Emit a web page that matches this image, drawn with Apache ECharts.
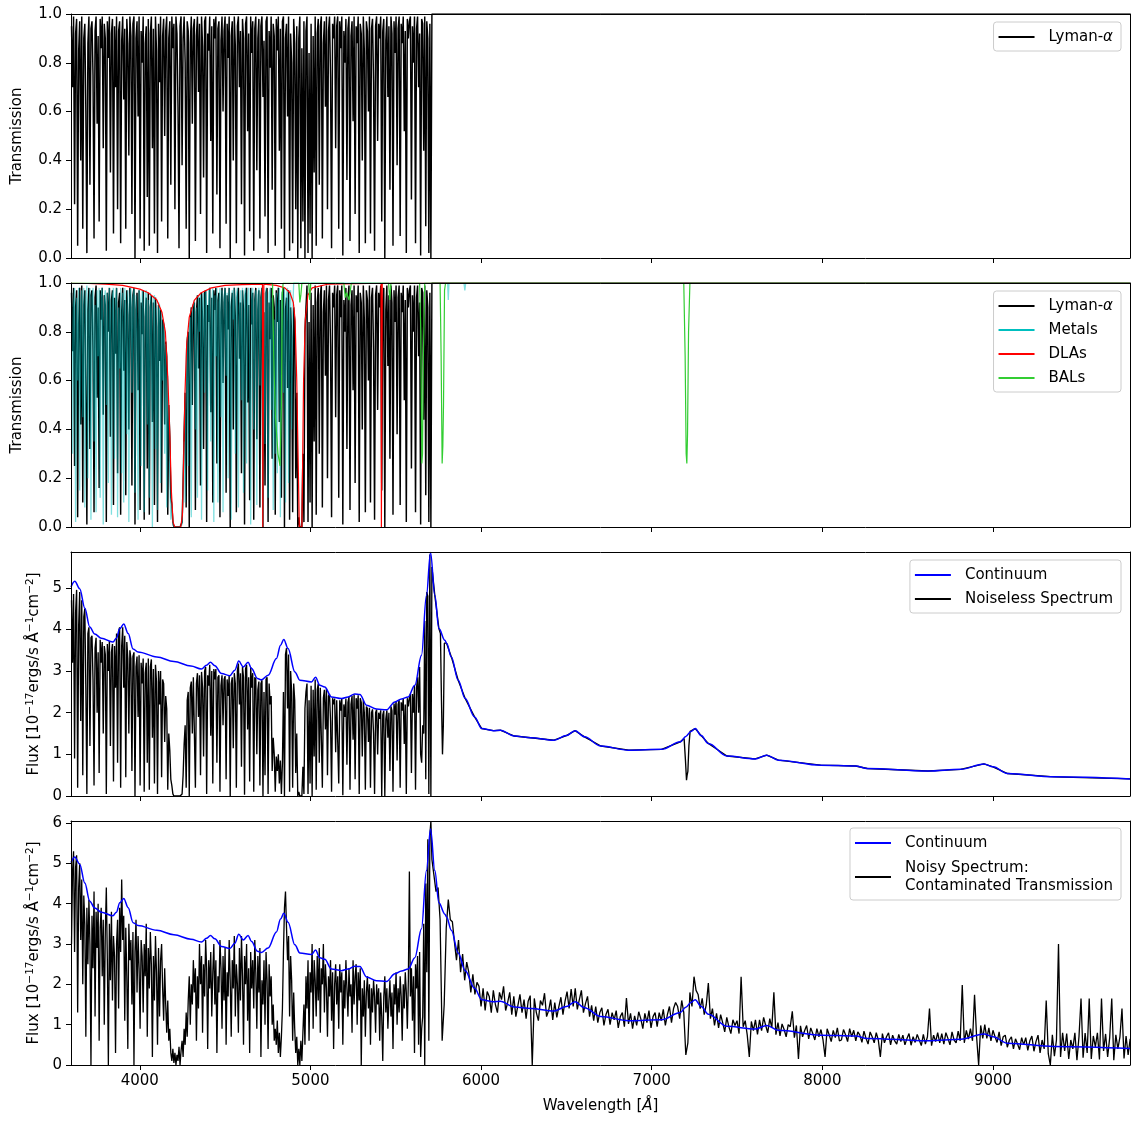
<!DOCTYPE html>
<html><head><meta charset="utf-8">
<script src="https://cdn.jsdelivr.net/npm/echarts@6/dist/echarts.min.js"></script>
<style>html,body{margin:0;padding:0;background:#fff}#c{width:1132px;height:1123px}</style>
</head><body><div id="c"></div>
<script>
// ---------------- DATA ----------------
// Forest sampling grid (Angstrom): 3600, 3606, ... 5706
const FOREST_START = 3600, FOREST_STEP = 6;
// Red-side sampling grid for the noisy spectrum: 5712, 5724, ... 9804
const RED_START = 5712, RED_STEP = 12;

const xTicks = [4000, 5000, 6000, 7000, 8000, 9000];
const transTicks = [0, 0.2, 0.4, 0.6, 0.8, 1.0];
const flux3Ticks = [0, 1, 2, 3, 4, 5];
const flux4Ticks = [0, 1, 2, 3, 4, 5, 6];

// Lyman-alpha transmission (panel 1, and panel 2 redward of 4974 A)
const lyaT = [
0.95,0.70,0.99,0.22,0.92,0.98,0.05,0.85,0.97,0.40,
0.99,0.12,0.90,0.96,0.60,0.02,0.88,0.99,0.30,0.94,
0.97,0.75,0.08,0.93,0.99,0.55,0.91,0.15,0.98,0.86,
0.99,0.45,0.96,0.90,0.03,0.97,0.82,0.99,0.35,0.92,
0.98,0.10,0.95,0.70,0.99,0.20,0.93,0.97,0.06,0.89,
0.99,0.65,0.94,0.12,0.98,0.88,0.42,0.99,0.91,0.18,
0.96,0.99,0.00,0.90,0.97,0.58,0.99,0.08,0.93,0.80,
0.99,0.03,0.88,0.95,0.25,0.98,0.05,0.92,0.99,0.45,
0.94,0.10,0.99,0.85,0.02,0.96,0.72,0.99,0.15,0.91,
0.98,0.50,0.93,0.99,0.08,0.90,0.97,0.30,0.99,0.86,
0.96,0.20,0.99,0.92,0.62,0.04,0.95,0.99,0.38,0.90,
0.99,0.80,0.12,0.97,0.93,0.00,0.88,0.99,0.55,0.94,
0.98,0.07,0.91,0.99,0.68,0.96,0.18,0.99,0.87,0.33,
0.97,0.99,0.02,0.92,0.85,0.99,0.48,0.95,0.10,0.98,
0.90,0.99,0.26,0.94,0.97,0.04,0.89,0.99,0.60,0.93,
0.99,0.14,0.96,0.82,0.99,0.00,0.91,0.97,0.40,0.99,
0.87,0.06,0.95,0.99,0.70,0.93,0.22,0.98,0.90,0.01,
0.96,0.99,0.52,0.92,0.11,0.99,0.84,0.97,0.03,0.94,
0.99,0.36,0.90,0.98,0.08,0.95,0.99,0.66,0.89,0.17,
0.97,0.99,0.02,0.93,0.78,0.99,0.28,0.96,0.91,0.05,
0.98,0.85,0.99,0.44,0.94,0.12,0.97,0.99,0.00,0.90,
0.96,0.58,0.99,0.03,0.92,0.80,0.06,0.98,0.88,0.20,
0.95,0.00,0.90,0.99,0.04,0.86,0.15,0.97,0.00,0.93,
0.99,0.02,0.84,0.10,0.96,0.00,0.91,0.35,0.99,0.05,
0.92,0.98,0.30,0.95,0.99,0.08,0.88,0.97,0.62,0.99,
0.20,0.93,0.99,0.74,0.04,0.96,0.90,0.99,0.45,0.95,
0.99,0.12,0.97,0.86,0.99,0.01,0.93,0.80,0.98,0.32,
0.94,0.99,0.07,0.91,0.97,0.56,0.99,0.18,0.95,0.88,
0.99,0.02,0.96,0.92,0.40,0.99,0.85,0.06,0.97,0.93,
0.60,0.99,0.10,0.94,0.98,0.72,0.03,0.95,0.99,0.48,
0.96,0.90,0.99,0.15,0.93,0.98,0.00,0.89,0.99,0.66,
0.95,0.28,0.99,0.92,0.05,0.97,0.84,0.99,0.38,0.94,
0.99,0.09,0.96,0.88,0.99,0.52,0.93,0.02,0.98,0.90,
0.97,0.99,0.24,0.95,0.80,0.99,0.06,0.94,0.99,0.70,
0.92,0.01,0.98,0.96,0.44,0.99,0.13,0.97,0.90,0.02,
0.96,0.00
];
const lyaTailWl = [5712, 9803];
const lyaTailT = [1.0, 1.0];

// Lyman-alpha as drawn in panel 2 blueward of 4980 A (cut by the DLAs)
const lyaDlaT = [
0.96,0.72,0.98,0.25,0.90,0.97,0.04,0.83,0.98,0.42,
0.99,0.10,0.91,0.97,0.58,0.01,0.89,0.98,0.32,0.95,
0.97,0.73,0.06,0.94,0.99,0.53,0.90,0.16,0.97,0.85,
0.98,0.46,0.95,0.91,0.02,0.96,0.80,0.98,0.37,0.93,
0.97,0.09,0.94,0.71,0.98,0.22,0.92,0.96,0.05,0.88,
0.98,0.64,0.93,0.13,0.97,0.87,0.40,0.98,0.90,0.17,
0.95,0.98,0.01,0.89,0.96,0.56,0.97,0.07,0.92,0.79,
0.97,0.03,0.86,0.94,0.24,0.96,0.05,0.90,0.95,0.43,
0.92,0.09,0.94,0.82,0.02,0.91,0.68,0.89,0.14,0.85,
0.83,0.42,0.76,0.70,0.05,0.50,0.37,0.12,0.09,0.02,
0.00,0.00,0.00,0.00,0.00,0.00,0.00,0.00,0.02,0.18,
0.39,0.55,0.08,0.76,0.80,0.00,0.83,0.90,0.50,0.91,
0.92,0.07,0.88,0.95,0.65,0.94,0.17,0.96,0.85,0.32,
0.96,0.97,0.02,0.91,0.84,0.98,0.47,0.94,0.10,0.97,
0.89,0.98,0.26,0.93,0.96,0.04,0.88,0.98,0.59,0.92,
0.98,0.14,0.95,0.81,0.98,0.00,0.90,0.96,0.40,0.98,
0.86,0.06,0.94,0.98,0.69,0.92,0.22,0.97,0.89,0.01,
0.95,0.98,0.51,0.91,0.11,0.98,0.83,0.96,0.03,0.93,
0.98,0.36,0.89,0.97,0.08,0.94,0.98,0.00,0.88,0.17,
0.96,0.98,0.02,0.92,0.77,0.98,0.28,0.95,0.90,0.05,
0.97,0.84,0.98,0.43,0.93,0.12,0.96,0.98,0.00,0.89,
0.94,0.57,0.97,0.03,0.90,0.78,0.06,0.90,0.84,0.20,
0.55,0.00,0.04,0.00,0.00,0.00,0.30,0.02,0.80,0.90
];

// Metal-line transmission (panel 2, cyan)
const metalsT = [
0.97,0.30,0.91,0.98,0.02,0.94,0.60,0.98,0.15,0.92,
0.97,0.45,0.98,0.08,0.93,0.99,0.20,0.88,0.98,0.03,
0.94,0.98,0.35,0.91,0.06,0.97,0.70,0.98,0.12,0.95,
0.98,0.01,0.92,0.97,0.50,0.96,0.18,0.98,0.90,0.05,
0.95,0.98,0.28,0.93,0.98,0.04,0.90,0.65,0.98,0.22,
0.96,0.10,0.98,0.91,0.38,0.97,0.02,0.94,0.98,0.55,
0.92,0.98,0.14,0.95,0.80,0.03,0.97,0.93,0.25,0.97,
0.90,0.06,0.96,0.97,0.42,0.93,0.12,0.96,0.88,0.00,
0.94,0.95,0.32,0.90,0.07,0.92,0.91,0.18,0.88,0.60,
0.84,0.30,0.75,0.08,0.62,0.45,0.20,0.03,0.10,0.01,
0.00,0.00,0.00,0.00,0.00,0.00,0.00,0.00,0.01,0.12,
0.35,0.10,0.70,0.78,0.25,0.84,0.86,0.04,0.90,0.91,
0.93,0.40,0.90,0.12,0.95,0.80,0.96,0.03,0.93,0.96,
0.55,0.97,0.90,0.15,0.97,0.98,0.35,0.93,0.98,0.02,
0.95,0.70,0.98,0.10,0.92,0.98,0.45,0.97,0.06,0.94,
0.98,0.62,0.96,0.20,0.98,0.91,0.03,0.97,0.85,0.98,
0.30,0.95,0.98,0.08,0.90,0.97,0.52,0.98,0.14,0.95,
0.98,0.26,0.93,0.98,0.66,0.01,0.96,0.98,0.40,0.92,
0.97,0.09,0.95,0.98,0.58,0.93,0.98,0.00,0.96,0.34,
0.98,0.90,0.12,0.96,0.98,0.48,0.94,0.07,0.85,0.30,
0.96,0.22,0.90,0.98,0.04,0.92,0.97,0.55,0.98,0.10,
0.95,0.98,0.18,0.92,0.97,0.40,0.88
];
const metalsTailWl = [4902, 5804, 5808, 5812, 5900, 5905, 5910, 9803];
const metalsTailT  = [1.00, 1.00, 0.93, 1.00, 1.00, 0.97, 1.00, 1.00];

// DLA transmission (red)
const dlaWl = [3597,3700,3800,3900,4000,4050,4100,4130,4150,4165,4175,4185,4195,4205,4240,4250,4258,4265,4275,4290,4320,4360,4420,4500,4600,4719,4721,4725,4727,4800,4850,4880,4900,4910,4920,4930,4935,4950,4955,4960,4970,4985,5010,5100,5414,5416,5419,5421,5500,9803];
const dlaT  = [0.999,0.998,0.995,0.99,0.975,0.96,0.93,0.88,0.80,0.60,0.40,0.15,0.02,0,0,0.05,0.30,0.55,0.75,0.86,0.93,0.96,0.98,0.99,0.993,0.995,0,0,0.995,0.99,0.98,0.96,0.92,0.85,0.60,0.20,0,0,0.30,0.60,0.85,0.95,0.98,0.995,0.999,0,0,0.999,1,1];

// BAL transmission (green)
const balWl = [3597,4778,4785,4795,4810,4822,4830,4835,4840,4932,4938,4944,4950,4990,4996,5002,5196,5204,5212,5226,5234,5240,5458,5465,5472,5640,5647,5653,5657,5662,5670,5760,5766,5772,5776,5780,5786,5792,7188,7196,7202,7206,7210,7216,7224,9803];
const balT  = [1,1,0.7,0.45,0.30,0.25,0.5,0.95,1,1,0.92,0.95,1,1,0.93,1,1,0.94,0.96,0.93,0.97,1,1,0.93,1,1,0.8,0.26,0.3,0.7,1,1,0.7,0.26,0.33,0.5,0.97,1,1,0.7,0.3,0.26,0.38,0.8,1,1];

// Quasar continuum [1e-17 erg/s/A/cm2]
const contWl = [3597,3619,3648,3678,3707,3736,3775,3843,3863,3883,
3906,3932,3961,3990,4100,4200,4300,4361,4391,4414,
4440,4479,4528,4557,4580,4606,4635,4655,4690,4713,
4752,4801,4825,4844,4869,4909,4938,5006,5030,5055,
5084,5123,5182,5221,5260,5290,5329,5387,5446,5495,
5534,5573,5612,5651,5680,5704,5729,5753,5788,5798,
5826,5866,5907,5962,6004,6072,6113,6195,6291,6428,
6500,6551,6606,6702,6866,7058,7168,7200,7230,7255,
7290,7332,7441,7606,7674,7743,7990,8195,8263,8619,
8811,8947,9000,9085,9359,9803];
const contFlux = [5.02,5.16,4.98,4.51,4.06,3.89,3.79,3.70,3.79,4.02,
4.13,3.90,3.53,3.46,3.34,3.23,3.12,3.05,3.14,3.21,
3.13,2.94,2.89,3.02,3.24,3.10,3.21,3.06,2.82,2.79,
2.90,3.30,3.62,3.76,3.54,2.98,2.78,2.74,2.85,2.66,
2.62,2.38,2.34,2.38,2.45,2.44,2.18,2.09,2.07,2.26,
2.33,2.38,2.66,3.38,4.82,5.85,4.82,4.02,3.74,3.67,
3.34,2.78,2.34,1.90,1.62,1.57,1.58,1.44,1.40,1.34,
1.45,1.57,1.42,1.20,1.10,1.12,1.30,1.43,1.55,1.62,
1.45,1.26,0.96,0.89,0.98,0.86,0.74,0.72,0.66,0.60,
0.64,0.77,0.70,0.54,0.46,0.41];

// Noiseless spectrum (panel 3), forest grid
const noiselessForest = [
4.70,3.20,4.85,0.90,4.40,4.95,0.20,4.10,4.90,1.80,
4.70,0.50,4.30,4.50,2.60,0.05,3.90,4.05,1.20,3.80,
3.85,2.80,0.25,3.55,3.80,2.00,3.45,0.55,3.75,3.20,
3.70,1.50,3.60,3.40,0.05,3.65,3.00,3.72,1.20,3.45,
3.65,0.35,3.60,2.60,3.90,0.80,3.95,4.05,0.20,3.60,
4.05,2.60,3.85,0.45,3.70,3.30,1.50,3.50,3.30,0.60,
3.35,3.45,0.00,3.10,3.35,1.90,3.38,0.25,3.20,2.70,
3.30,0.10,2.95,3.20,0.80,3.30,0.15,3.10,3.28,1.40,
3.05,0.30,3.15,2.75,0.05,3.00,2.20,3.00,0.45,2.80,
2.70,1.30,2.40,2.10,0.15,1.50,1.10,0.40,0.25,0.05,
0.00,0.00,0.00,0.00,0.00,0.00,0.00,0.00,0.05,0.50,
1.25,1.70,0.20,2.30,2.50,0.00,2.60,2.75,1.50,2.85,
2.85,0.20,2.70,2.95,1.90,2.90,0.50,2.98,2.60,0.95,
3.00,3.10,0.05,2.90,2.65,3.15,1.45,3.00,0.30,3.05,
2.80,3.05,0.80,2.85,2.90,0.10,2.65,2.90,1.70,2.80,
2.88,0.40,2.80,2.40,2.90,0.00,2.70,2.85,1.15,2.95,
2.70,0.20,3.00,3.18,2.20,2.95,0.70,3.10,2.85,0.03,
3.05,3.15,1.60,2.85,0.35,3.10,2.60,2.95,0.10,2.85,
2.80,1.00,2.55,2.75,0.25,2.70,2.78,0.00,2.50,0.50,
2.80,2.85,0.05,2.70,2.20,2.40,0.60,1.40,1.00,0.10,
0.95,0.60,1.00,0.30,0.85,0.05,0.80,2.50,0.00,3.40,
3.55,2.10,3.40,0.10,3.00,2.50,0.20,2.70,2.30,0.55,
1.50,0.00,0.10,0.00,0.00,0.00,0.70,0.05,2.10,2.50,
2.70,0.05,2.30,0.30,2.65,0.00,2.55,0.95,2.80,0.15,
2.55,2.70,0.80,2.60,2.62,0.20,2.35,2.55,1.60,2.58,
0.50,2.40,2.45,1.80,0.10,2.35,2.20,2.34,1.05,2.30,
2.33,0.30,2.30,2.05,2.35,0.02,2.20,1.90,2.34,0.75,
2.25,2.38,0.15,2.20,2.40,1.35,2.44,0.40,2.35,2.10,
2.42,0.05,2.35,2.25,0.95,2.30,2.00,0.15,2.15,2.10,
1.30,2.12,0.20,2.00,2.08,1.50,0.05,2.00,2.08,1.00,
2.00,1.85,2.06,0.00,1.95,2.05,0.00,1.85,2.06,1.40,
2.00,0.60,2.15,2.05,0.10,2.22,1.95,2.28,0.85,2.20,
2.30,0.20,2.25,2.05,2.35,1.25,2.20,0.05,2.35,2.15,
2.35,2.45,0.55,2.45,2.00,2.65,0.15,2.60,2.85,2.00,
3.10,1.00,0.80,1.70,1.50,4.20,0.40,4.90,4.80,0.05,
5.80,0.00
];
const noiselessTailWl = [5712,5729,5753,5762,5768,5774,5779,5785,5790,5798,5826,5866,5907,5962,6004,6072,6113,6195,6291,6428,6500,6551,6606,6702,6866,7058,7168,7190,7198,7204,7208,7212,7218,7225,7255,7290,7332,7441,7606,7674,7743,7990,8195,8263,8619,8811,8947,9000,9085,9359,9803];
const noiselessTailFlux = [5.50,4.82,4.02,3.90,2.30,1.00,1.70,3.67,3.70,3.67,3.34,2.78,2.34,1.90,1.62,1.57,1.58,1.44,1.40,1.34,1.45,1.57,1.42,1.20,1.10,1.12,1.30,1.38,0.85,0.38,0.51,0.59,1.20,1.55,1.62,1.45,1.26,0.96,0.89,0.98,0.86,0.74,0.72,0.66,0.60,0.64,0.77,0.70,0.54,0.46,0.41];

// Noisy spectrum (panel 4), forest grid
const noisyForest = [
3.00,4.80,5.30,2.80,4.90,5.20,1.30,4.40,5.00,3.10,
4.60,2.00,4.20,3.50,0.70,3.90,2.50,4.10,3.00,0.00,
3.70,2.40,4.30,1.20,3.80,2.90,4.00,0.60,3.40,3.90,
2.20,3.60,1.00,3.30,4.40,2.60,0.00,3.50,2.10,3.80,
1.60,3.20,2.70,0.30,3.00,3.60,1.40,3.90,2.80,4.60,
3.10,3.70,1.10,3.40,2.20,0.40,3.50,2.60,3.10,1.50,
3.30,0.00,2.80,3.60,1.80,3.20,2.40,0.90,3.10,2.70,
1.30,3.00,2.20,3.50,0.70,2.90,1.90,3.30,2.50,0.20,
2.70,1.60,3.20,2.30,0.50,2.90,1.20,2.60,3.00,1.90,
1.10,2.40,1.50,0.80,1.60,0.60,0.90,0.30,0.10,0.40,
0.05,0.30,0.00,0.25,0.10,0.45,0.00,0.35,0.60,0.20,
0.90,0.50,1.30,0.70,1.60,2.20,1.00,2.00,1.50,2.60,
1.80,2.40,0.60,2.20,1.40,3.00,2.00,2.70,0.80,2.50,
1.70,3.10,2.40,0.40,2.60,1.90,2.80,1.20,2.30,3.00,
1.50,2.60,0.30,2.20,1.80,3.10,2.40,0.90,2.70,1.60,
2.90,0.50,2.30,1.70,3.10,2.10,0.70,2.60,1.90,3.20,
1.20,2.50,2.00,0.80,2.90,1.60,3.20,2.20,0.50,2.70,
2.00,3.00,1.10,2.40,0.30,2.80,1.90,2.60,1.40,3.10,
2.30,0.90,2.70,1.80,2.90,0.20,2.10,1.50,2.60,1.00,
2.80,2.10,0.40,2.50,1.70,2.20,1.00,1.50,0.60,0.90,
0.50,1.10,0.30,0.80,0.20,0.70,1.40,2.80,3.90,4.30,
3.40,2.60,3.20,1.20,2.70,2.10,0.60,1.80,0.90,0.30,
0.70,0.00,0.40,0.00,0.60,0.10,0.80,1.50,0.50,2.20,
1.40,2.60,0.60,2.30,1.80,3.00,0.90,2.60,2.10,1.20,
2.70,1.60,2.90,0.80,2.40,2.00,3.00,1.30,2.50,1.90,
0.70,2.20,1.70,2.60,1.10,2.30,0.40,2.00,2.50,1.50,
2.20,0.90,2.50,1.80,2.30,0.50,2.10,1.40,2.60,1.90,
1.20,2.40,1.70,2.00,0.80,2.60,1.50,2.20,2.50,1.00,
2.30,1.60,2.40,0.00,1.90,1.20,2.10,0.70,1.80,2.20,
1.40,2.00,0.50,1.90,1.30,2.10,1.70,0.80,2.00,1.50,
1.90,0.60,1.80,1.20,0.10,1.70,2.20,1.30,1.90,0.90,
1.60,2.10,1.20,1.80,0.40,2.00,1.50,2.30,1.00,1.90,
1.30,2.20,1.70,0.60,2.00,1.40,2.30,1.80,0.90,2.10,
4.80,1.70,2.40,1.10,2.20,0.30,2.50,1.90,2.70,0.50,
2.80,0.20,0.90,1.20,3.50,0.00,4.50,2.30,5.60,0.60,
5.70,6.05
];
// Noisy spectrum (panel 4), red grid
const noisyRed = [
5.10,4.70,4.30,4.40,3.60,0.60,1.50,3.40,4.10,3.60,
3.55,3.05,2.60,3.10,2.30,2.75,2.10,2.55,2.30,1.80,
2.25,1.75,2.05,1.95,1.45,1.90,1.35,1.82,1.70,1.30,
1.85,1.50,1.30,1.80,1.62,1.95,1.35,1.55,1.80,1.25,
1.70,1.20,1.48,1.75,1.30,1.62,1.15,1.58,1.72,0.00,
1.65,1.30,1.10,1.60,1.48,1.78,1.20,1.35,1.62,1.12,
1.55,1.18,1.45,1.68,1.25,1.58,1.82,1.40,1.88,1.45,
1.90,1.38,1.62,1.85,1.30,1.52,1.70,1.20,1.48,1.10,
1.45,1.05,1.30,1.42,0.98,1.25,1.38,1.00,1.30,1.12,
1.35,0.92,1.20,1.30,0.95,1.66,1.02,1.28,0.90,1.22,
0.98,1.32,1.15,0.90,1.28,1.05,1.35,0.92,1.20,1.30,
0.95,1.30,1.10,1.38,0.98,1.25,1.45,1.05,1.40,1.55,
1.45,1.15,1.60,1.30,0.25,0.55,1.80,1.45,2.19,1.85,
1.75,1.40,1.65,1.25,1.50,2.03,1.15,1.40,0.98,1.28,
0.92,1.25,1.05,0.82,1.18,0.95,0.78,1.12,0.98,1.10,
0.78,2.19,0.95,1.10,0.74,0.20,1.08,0.85,1.12,0.76,
1.12,0.85,1.18,0.98,0.80,1.15,0.92,1.80,0.75,1.05,
0.72,1.02,0.88,0.70,1.00,0.95,1.33,0.68,0.98,0.15,
0.97,0.70,0.85,0.98,0.65,0.92,0.78,0.62,0.90,0.70,
0.88,0.62,0.20,0.90,0.75,0.58,0.86,0.68,0.92,0.60,
0.62,0.88,0.75,0.58,0.90,0.70,0.86,0.60,0.82,0.74,
0.56,0.84,0.66,0.52,0.82,0.70,0.55,0.80,0.62,0.20,
0.78,0.55,0.70,0.80,0.50,0.74,0.60,0.52,0.76,0.58,
0.74,0.50,0.66,0.78,0.49,0.70,0.56,0.76,0.62,0.48,
0.76,0.52,0.70,1.40,0.48,0.74,0.58,0.80,0.55,0.78,
0.52,0.80,0.66,0.50,0.82,0.62,0.55,0.84,0.60,1.98,
0.55,0.86,0.64,0.90,0.60,1.74,0.70,0.00,0.98,0.66,
1.00,0.66,0.92,0.60,0.86,0.70,0.56,0.82,0.48,0.70,
0.74,0.44,0.62,0.70,0.40,0.65,0.52,0.38,0.68,0.50,
0.68,0.36,0.60,0.72,0.34,0.58,0.74,0.30,0.62,0.40,
1.60,0.28,0.00,0.75,0.22,0.62,3.00,0.20,0.80,0.35,
0.78,0.15,0.62,0.40,0.80,0.12,0.70,1.65,0.18,0.79,
0.30,1.65,0.15,0.72,0.45,0.80,0.14,1.65,0.35,0.77,
0.20,0.68,1.65,0.12,0.75,0.40,0.70,1.40,0.16,0.72,
0.25,0.65
];

// ---------------- BUILD ----------------
const onGrid = (start, step, vals) => vals.map((v, i) => [start + i * step, v]);
const zipXY = (xs, ys) => xs.map((x, i) => [x, ys[i]]);

const lyaPanel1 = onGrid(FOREST_START, FOREST_STEP, lyaT).concat(zipXY(lyaTailWl, lyaTailT));
const lyaPanel2 = onGrid(FOREST_START, FOREST_STEP, lyaDlaT)
  .concat(onGrid(FOREST_START, FOREST_STEP, lyaT).slice(lyaDlaT.length))
  .concat(zipXY(lyaTailWl, lyaTailT));
const metals = onGrid(FOREST_START, FOREST_STEP, metalsT).concat(zipXY(metalsTailWl, metalsTailT));
const dla = zipXY(dlaWl, dlaT);
const bal = zipXY(balWl, balT);
const continuum = zipXY(contWl, contFlux);
const noiseless = onGrid(FOREST_START, FOREST_STEP, noiselessForest).concat(zipXY(noiselessTailWl, noiselessTailFlux));
const noisy = onGrid(FOREST_START, FOREST_STEP, noisyForest).concat(onGrid(RED_START, RED_STEP, noisyRed));

const FONT = 'DejaVu Sans';
const X_MIN = 3597, X_MAX = 9803;
const tops = [14, 283, 552, 821];
const H = 244;
const yMax = [1, 1, 5.86, 6.05];
const yTicks = [transTicks, transTicks, flux3Ticks, flux4Ticks];

const fluxName = 'Flux [10{sup|−17}ergs/s Å{sup|−1}cm{sup|−2}]';
const yNames = ['Transmission', 'Transmission', fluxName, fluxName];
const yGaps = [46, 46, 28, 28];

const grids = tops.map(t => ({ left: 71, right: 2, top: t, height: H, show: false }));
const xAxes = [], yAxes = [];
tops.forEach((t, i) => {
  xAxes.push({
    type: 'value', gridIndex: i, min: X_MIN, max: X_MAX, position: 'bottom', z: 5,
    axisLine: { show: true, onZero: false, lineStyle: { color: '#000', width: 1 } },
    axisTick: { show: true, length: 5, customValues: xTicks, lineStyle: { color: '#000', width: 1 } },
    axisLabel: { show: i === 3, customValues: xTicks, margin: 9, fontFamily: FONT, fontSize: 15, color: '#000',
      formatter: v => String(Math.round(v)) },
    splitLine: { show: false },
    name: i === 3 ? 'Wavelength [{it|Å}]' : '', nameLocation: 'middle', nameGap: 34,
    nameTextStyle: { fontFamily: FONT, fontSize: 15, color: '#000', rich: { it: { fontFamily: FONT, fontSize: 15, fontStyle: 'italic', color: '#000' } } }
  });
  xAxes.push({
    type: 'value', gridIndex: i, min: X_MIN, max: X_MAX, position: 'top', z: 5,
    axisLine: { show: true, onZero: false, lineStyle: { color: '#000', width: 1 } },
    axisTick: { show: false }, axisLabel: { show: false }, splitLine: { show: false }
  });
  yAxes.push({
    type: 'value', gridIndex: i, min: 0, max: yMax[i], position: 'left', z: 5,
    axisLine: { show: true, onZero: false, lineStyle: { color: '#000', width: 1 } },
    axisTick: { show: true, length: 5, customValues: yTicks[i], lineStyle: { color: '#000', width: 1 } },
    axisLabel: { show: true, customValues: yTicks[i], margin: 9, fontFamily: FONT, fontSize: 15, color: '#000',
      formatter: v => (i < 2 ? Number(v).toFixed(1) : String(Math.round(v))) },
    splitLine: { show: false },
    name: yNames[i], nameLocation: 'middle', nameGap: yGaps[i],
    nameTextStyle: { fontFamily: FONT, fontSize: 15, color: '#000',
      rich: { sup: { fontFamily: FONT, fontSize: 10.5, color: '#000', verticalAlign: 'top', padding: [0, 0, 7, 0] } } }
  });
  yAxes.push({
    type: 'value', gridIndex: i, min: 0, max: yMax[i], position: 'right', z: 5,
    axisLine: { show: true, onZero: false, lineStyle: { color: '#000', width: 1 } },
    axisTick: { show: false }, axisLabel: { show: false }, splitLine: { show: false }
  });
});

const line = (name, data, i, color, width, extra) => Object.assign({
  type: 'line', name, data, xAxisIndex: 2 * i, yAxisIndex: 2 * i, symbol: 'none',
  showSymbol: false, animation: false, sampling: null, clip: true, color,
  lineStyle: { color, width }, emphasis: { disabled: true }, silent: true
}, extra || {});

const series = [
  line('Lyman-α', lyaPanel1, 0, '#000000', 1.45),
  line('Lyman-α', lyaPanel2, 1, '#000000', 1.45),
  line('Metals', metals, 1, '#00bfbf', 1.3, { lineStyle: { color: '#00bfbf', width: 1.3, opacity: 0.5 } }),
  line('DLAs', dla, 1, '#ff0000', 1.2),
  line('BALs', bal, 1, '#32cd32', 1.2),
  line('Noiseless Spectrum', noiseless, 2, '#000000', 1.35),
  line('Continuum', continuum, 2, '#0000ff', 1.5, { smooth: 0.35, smoothMonotone: 'x' }),
  line('Noisy Spectrum: Contaminated Transmission', noisy, 3, '#000000', 1.3),
  line('Continuum', continuum, 3, '#0000ff', 1.5, { smooth: 0.35, smoothMonotone: 'x' })
];

const legendBase = {
  orient: 'vertical', right: 11, icon: 'rect', itemWidth: 36, itemHeight: 2, itemGap: 6,
  padding: [6, 8, 5, 5], backgroundColor: 'rgba(255,255,255,0.85)', borderColor: '#cccccc',
  borderWidth: 1, borderRadius: 3, selectedMode: false,
  textStyle: { fontFamily: FONT, fontSize: 15, color: '#000', lineHeight: 18, padding: [0, 0, 0, 9],
    rich: { it: { fontFamily: FONT, fontSize: 15, fontStyle: 'italic', color: '#000', lineHeight: 18 } } },
  formatter: n => n.replace('α', '{it|α}').replace(': ', ':\n')
};
const legends = [
  Object.assign({}, legendBase, { top: 22, data: [{ name: 'Lyman-α', itemStyle: { color: '#000' } }] }),
  Object.assign({}, legendBase, { top: 291, data: [
    { name: 'Lyman-α', itemStyle: { color: '#000' } },
    { name: 'Metals', itemStyle: { color: '#00bfbf', opacity: 1 } },
    { name: 'DLAs', itemStyle: { color: '#ff0000' } },
    { name: 'BALs', itemStyle: { color: '#32cd32' } }] }),
  Object.assign({}, legendBase, { top: 560, data: [
    { name: 'Continuum', itemStyle: { color: '#0000ff' } },
    { name: 'Noiseless Spectrum', itemStyle: { color: '#000' } }] }),
  Object.assign({}, legendBase, { top: 828, itemGap: 7, data: [
    { name: 'Continuum', itemStyle: { color: '#0000ff' } },
    { name: 'Noisy Spectrum: Contaminated Transmission', itemStyle: { color: '#000' } }] })
];

const chart = echarts.init(document.getElementById('c'), null, { renderer: 'canvas' });
chart.setOption({
  animation: false,
  backgroundColor: '#ffffff',
  grid: grids, xAxis: xAxes, yAxis: yAxes, legend: legends, series
});
</script></body></html>
